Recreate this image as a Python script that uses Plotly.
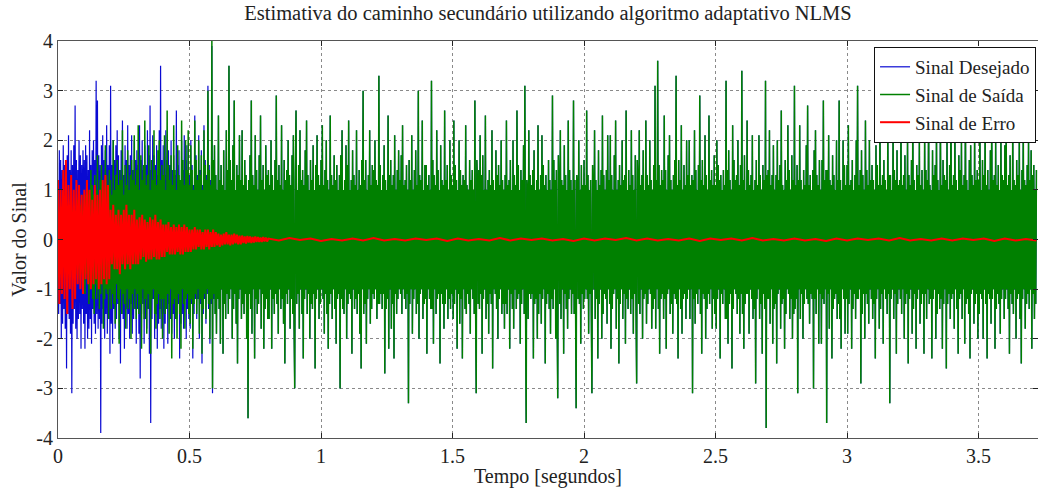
import numpy as np
import plotly.graph_objects as go

# Sampling interval of the output / desired signals (s)
DT = 0.0025
# Sampling interval of the error signal during adaptation (s)
DT_ERRO = 0.005
# Coarser interval used for the error signal once it has converged (s)
DT_ERRO_CONV = 0.04

# Output of the adaptive filter (Sinal de Saida), one row per 0.1 s
saida = [
    0.0, -0.1, 0.1, -0.1, 0.2, -0.1, 0.2, -0.2, 0.1, -0.3, 0.3, -0.2, 0.2, -0.4, 0.3, -0.3, 0.4, -0.2, 0.5, -0.4,
    0.3, -0.5, 0.6, -0.4, 0.5, -0.6, 0.4, -0.7, 0.6, -0.5, 0.8, -0.6, 0.5, -0.8, 0.7, -0.6, 0.9, -0.7, 0.6, -0.9,
    0.8, -1.1, 0.9, -0.7, 1.2, -0.9, 1.0, -1.3, 0.7, -1.0, 1.4, -0.8, 1.1, -1.2, 0.9, -1.5, 1.3, -0.9, 1.0, -1.2,
    1.7, -1.0, 0.8, -1.4, 1.2, -1.1, 1.5, -0.9, 1.1, -1.8, 1.0, -1.2, 1.9, -1.0, 1.3, -1.1, 0.9, -1.6, 1.4, -1.0,
    1.2, -1.4, 0.9, -1.1, 2.0, -1.3, 1.0, -1.7, 1.3, -0.9, 1.6, -1.2, 1.1, -2.1, 1.4, -1.0, 1.2, -1.5, 2.2, -1.1,
    0.9, -1.3, 1.5, -1.8, 1.1, -1.0, 1.8, -1.4, 1.0, -1.2, 1.3, -2.0, 1.6, -1.1, 1.2, -1.4, 2.1, -1.0, 1.1, -1.6,
    1.4, -1.1, 2.3, -1.5, 1.0, -1.3, 1.7, -2.2, 1.2, -1.0, 1.5, -1.6, 2.4, -1.2, 1.1, -1.9, 1.3, -1.1, 1.9, -1.4,
    1.0, -2.3, 1.6, -1.2, 1.2, -1.0, 2.2, -1.5, 1.4, -1.8, 1.1, -1.3, 1.8, -1.1, 2.0, -1.6, 1.2, -1.2, 1.5, -2.0,
    1.3, -1.2, 2.1, -1.5, 1.0, -1.4, 2.6, -1.1, 1.5, -1.9, 1.2, -1.0, 1.7, -2.4, 1.1, -1.3, 2.3, -1.2, 1.4, -1.6,
    1.0, -2.0, 1.9, -1.1, 1.3, -1.5, 1.2, -2.2, 2.4, -1.0, 1.6, -1.3, 1.1, -1.8, 2.0, -1.2, 1.4, -1.1, 2.2, -1.5,
    1.1, -1.7, 1.9, -1.2, 1.4, -2.2, 1.0, -1.3, 2.4, -1.1, 1.6, -1.5, 1.2, -1.0, 2.0, -1.9, 1.3, -1.2, 1.7, -2.3,
    1.0, -1.4, 2.2, -1.1, 1.5, -1.6, 1.2, -1.0, 3.0, -1.3, 1.4, -2.0, 1.1, -1.2, 4.0, -3.0, 1.6, -1.1, 1.9, -1.5,
    1.3, -1.9, 1.0, -1.2, 2.5, -1.4, 1.2, -2.1, 1.5, -1.0, 1.1, -2.3, 1.8, -1.3, 1.0, -1.6, 2.2, -1.1, 1.4, -1.5,
    3.5, -1.2, 1.6, -1.0, 1.2, -2.0, 1.9, -1.4, 2.8, -1.1, 1.0, -1.7, 1.5, -2.5, 1.3, -1.2, 2.1, -1.0, 1.2, -1.6,
    2.2, -1.3, 1.1, -1.5, 1.6, -1.1, 1.3, -2.0, 1.0, -3.6, 1.2, -1.1, 1.7, -1.4, 2.8, -1.9, 1.3, -1.0, 1.1, -2.4,
    2.1, -1.2, 1.4, -1.5, 1.0, -1.3, 1.7, -1.0, 2.5, -1.8, 1.2, -1.1, 1.5, -2.2, 1.0, -1.4, 1.9, -1.2, 1.3, -1.6,
    1.4, -1.6, 1.1, -1.0, 2.0, -2.2, 1.3, -1.2, 1.0, -1.5, 1.6, -1.1, 2.9, -1.3, 1.2, -1.9, 1.5, -1.0, 1.1, -1.4,
    2.3, -1.2, 1.0, -1.7, 1.6, -2.5, 1.2, -1.1, 1.4, -1.3, 2.0, -1.0, 1.3, -1.8, 1.1, -1.2, 1.7, -1.5, 2.1, -1.7,
    -3.0, 1.2, 2.6, -1.3, 1.0, -1.1, 1.5, -1.8, 2.2, -1.0, 1.2, -1.5, 1.4, -2.4, 1.1, -1.2, 1.8, -1.0, 2.4, -1.5,
    1.3, -1.1, 1.0, -2.0, 1.6, -1.3, 1.2, -1.4, 1.9, -1.1, 1.0, -2.6, 1.5, -1.2, 2.1, -1.0, 1.3, -1.6, 1.1, -1.3,
    1.6, -1.0, 2.3, -1.2, 1.1, -1.9, 1.4, -1.1, 2.0, -1.5, 1.2, -2.2, 1.0, -1.3, 2.5, -1.1, 1.3, -1.6, 1.1, -1.0,
    1.7, -1.4, 1.2, -2.1, 1.5, -1.2, 1.0, -1.1, 1.3, -3.0, 1.7, -1.2, 2.2, -1.4, 1.0, -1.5, 1.2, -1.0, 1.9, -2.0,
    1.5, -1.3, 2.4, -1.1, 1.0, -1.2, 1.2, -2.3, 1.8, -1.0, 1.3, -1.4, 1.1, -1.2, 2.2, -1.5, 1.0, -1.1, 1.4, -1.9,
    1.1, -2.6, 1.6, -1.0, 3.0, -1.5, 1.2, -1.3, 1.6, -2.1, 1.0, -1.2, 1.3, -1.0, 2.2, -1.7, 1.1, -1.4, 1.5, -1.1,
    1.4, -1.2, 2.0, -1.0, 1.2, -1.6, 1.1, -1.3, 3.3, -1.3, 1.5, -1.1, 1.0, -1.4, 1.3, -1.1, 1.9, -2.7, 1.2, -1.4,
    1.0, -1.2, 2.5, -2.2, 1.3, -1.0, 1.6, -1.8, 1.1, -1.3, 1.3, -2.4, 2.1, -1.1, 1.0, -1.5, 1.4, -1.2, 1.8, -1.0,
    1.2, -1.1, 1.7, -1.5, 2.3, -1.0, 1.1, -1.2, 1.2, -1.4, 1.5, -1.1, 1.0, -3.3, 1.6, -1.3, 1.2, -1.0, 2.1, -1.9,
    1.0, -1.2, 1.4, -1.0, 1.8, -1.5, 1.1, -1.3, 3.0, -2.0, 1.3, -1.1, 1.2, -1.0, 2.4, -1.6, 1.0, -1.3, 1.5, -1.2,
    1.5, -2.3, 1.1, -1.0, 1.3, -1.2, 1.0, -1.4, 3.2, -1.4, 1.6, -2.1, 1.3, -1.0, 1.1, -1.5, 2.2, -1.2, 1.4, -1.1,
    1.0, -2.5, 1.9, -1.1, 1.2, -1.3, 1.1, -1.8, 2.6, -1.3, 1.2, -1.0, 1.5, -1.6, 1.0, -1.2, 2.0, -1.4, 1.3, -1.1,
    1.1, -1.6, 2.4, -1.3, 1.5, -1.0, 1.2, -2.2, 1.0, -1.1, 2.0, -1.7, 1.4, -1.2, 1.1, -2.4, 1.3, -1.0, 1.2, -1.4,
    2.3, -1.5, 1.1, -1.1, 1.0, -1.3, 1.6, -1.9, 1.2, -1.0, 1.4, -1.2, 1.0, -1.5, 2.8, -1.2, -3.1, 1.6, 1.1, -1.3,
    1.4, -1.4, 2.1, -1.1, 1.3, -2.3, 1.7, -1.2, 1.0, -1.0, 2.5, -1.6, 1.0, -1.3, 1.2, -1.9, 1.4, -1.1, 1.1, -1.3,
    2.2, -2.6, 1.2, -1.0, 1.0, -1.1, 1.8, -1.4, 1.3, -2.0, 1.5, -1.2, 1.1, -1.0, 2.0, -1.5, 1.2, -1.3, 1.0, -1.8,
    1.3, -1.3, 2.4, -1.5, 1.1, -1.0, 1.2, -2.2, 1.6, -1.1, 1.0, -1.4, 2.0, -1.8, 1.3, -1.0, 1.1, -1.4, 2.6, -1.2,
    1.5, -1.1, 1.0, -2.1, 1.4, -1.3, 1.2, -1.0, 1.9, -1.5, 3.1, -1.2, -3.7, 1.2, 1.0, -1.6, 2.2, -1.1, 1.3, -1.2,
    1.1, -1.1, 1.4, -2.4, 1.8, -1.3, 1.0, -1.2, 1.2, -2.0, 2.3, -1.5, 1.0, -1.1, 1.3, -1.7, 2.1, -1.2, 1.5, -1.0,
    1.1, -2.5, 1.3, -1.3, 1.0, -1.1, 1.6, -1.4, 1.2, -1.9, 1.0, -1.2, 2.9, -1.4, 1.6, -1.0, 1.2, -2.0, 1.4, -1.3,
    -3.2, 1.7, 1.0, -1.3, 2.2, -1.6, 1.2, -1.0, 1.1, -2.3, 1.9, -1.1, 1.3, -1.4, 1.0, -1.8, 2.4, -1.2, 1.4, -1.0,
    1.2, -1.5, 1.0, -1.1, 2.8, -1.5, 1.2, -1.0, -3.4, 1.3, 1.1, -1.2, 2.0, -1.3, 1.0, -2.1, 1.5, -1.1, 1.1, -1.4,
    1.6, -1.2, 1.1, -1.0, 2.6, -1.2, 1.3, -1.9, 1.0, -1.1, 1.2, -1.4, -3.1, 1.5, 1.0, -1.0, 2.2, -1.6, 1.2, -1.2,
    1.0, -2.4, 1.8, -1.3, 1.1, -1.0, 1.4, -2.0, 2.5, -1.5, 1.3, -1.1, 1.0, -1.2, 1.4, -1.7, 2.1, -1.0, 1.2, -1.3,
    2.1, -2.2, 1.3, -1.4, 1.0, -1.1, 1.7, -1.0, 2.4, -1.8, 1.0, -1.2, 1.2, -2.5, 1.5, -1.3, 1.1, -1.0, 2.0, -1.6,
    1.2, -1.1, 1.3, -2.1, 2.6, -1.2, 1.0, -1.4, 1.4, -1.0, 1.1, -1.5, 2.2, -1.2, 1.3, -1.9, 1.0, -1.1, 1.7, -1.3,
    -2.9, 1.6, 1.2, -1.3, 2.2, -1.5, 1.1, -1.0, 1.3, -2.0, 1.8, -1.2, 1.0, -1.1, 2.4, -1.7, 1.3, -1.3, 1.1, -1.0,
    2.0, -1.1, 1.2, -1.8, 1.0, -1.4, 1.5, -1.2, 3.1, -1.8, 1.2, -1.0, 3.6, -1.4, 1.5, -2.3, 1.1, -1.2, 1.4, -1.1,
    1.2, -1.6, 2.5, -1.2, 1.4, -2.2, 1.0, -1.1, 1.7, -1.0, 2.1, -1.5, 1.2, -1.3, 1.0, -1.9, 1.3, -1.1, 1.6, -1.2,
    3.3, -1.3, 1.1, -2.4, 1.6, -1.0, 1.2, -1.4, 2.3, -1.9, 1.0, -1.2, 1.5, -1.1, 1.1, -1.6, 2.0, -1.2, 1.3, -1.0,
    2.0, -1.6, 1.1, -1.0, 1.3, -3.1, 1.2, -1.2, 2.2, -1.7, 1.4, -1.1, 1.0, -1.3, 1.5, -1.0, 2.9, -1.5, 1.2, -2.3,
    1.6, -1.1, 1.1, -1.2, 2.1, -2.0, 1.3, -1.4, 1.0, -1.1, 2.5, -1.3, 1.2, -1.0, 1.4, -1.8, 1.1, -1.2, 1.7, -1.5,
    1.1, -1.8, 2.0, -1.2, 1.5, -1.0, 1.2, -2.4, 1.3, -1.1, 1.0, -1.3, 1.4, -1.0, 1.1, -1.6, 3.2, -1.6, 1.4, -2.1,
    1.8, -1.3, 1.2, -1.1, 1.0, -2.6, 2.3, -1.4, 1.6, -1.0, 1.2, -1.1, 1.3, -1.5, 2.0, -1.2, 1.1, -1.9, 1.5, -1.1,
    3.4, -1.5, 1.2, -2.2, 1.7, -1.3, 1.0, -1.1, 2.4, -1.1, 1.4, -1.9, 1.1, -1.0, 1.3, -1.2, 2.1, -1.6, 1.0, -1.4,
    1.2, -2.9, 1.6, -1.2, 1.1, -1.0, 2.1, -1.6, 1.3, -1.3, 1.0, -2.3, 1.5, -1.1, 1.2, -1.4, 3.2, -3.8, 1.3, -1.2,
    1.4, -1.2, 2.2, -1.7, 1.1, -1.0, 1.3, -2.1, 1.9, -1.4, 1.0, -1.3, 1.3, -2.5, 2.0, -1.1, 1.2, -1.0, 1.5, -1.8,
    2.6, -1.3, 1.1, -1.2, 1.0, -2.2, 1.6, -1.5, 1.2, -1.0, 2.3, -1.1, 1.4, -1.6, 1.0, -1.2, 1.7, -2.0, 1.2, -1.5,
    3.1, -1.4, 1.1, -1.2, 1.5, -3.1, 1.2, -1.0, 2.3, -1.6, 1.2, -1.1, 1.0, -2.0, 1.4, -1.3, 1.1, -1.0, 1.9, -1.2,
    2.7, -1.3, 1.1, -1.7, 1.3, -1.1, 1.0, -1.2, 1.4, -3.0, 1.8, -1.2, 2.2, -1.5, 1.3, -1.0, 1.1, -2.1, 1.6, -1.1,
    1.0, -2.1, 1.6, -1.2, 2.8, -1.3, 1.2, -1.0, 1.4, -3.7, 1.4, -1.1, 2.1, -1.8, 1.2, -1.0, 1.1, -2.4, 1.7, -1.4,
    1.3, -1.2, 1.0, -1.1, 2.0, -1.6, 1.2, -1.3, 2.8, -1.6, 1.2, -2.2, 1.0, -1.0, 2.0, -1.2, 1.5, -1.9, 1.1, -1.2,
    1.5, -1.9, 2.3, -1.3, 1.1, -1.0, 1.2, -2.2, 1.6, -1.4, 1.0, -1.1, 1.3, -1.6, 2.0, -1.2, 3.1, -1.2, 1.1, -1.0,
    1.4, -2.9, 1.8, -1.5, 1.3, -1.1, 1.0, -2.0, 2.4, -1.1, 1.4, -1.3, 1.1, -1.7, 2.0, -1.0, 1.2, -1.2, 1.5, -1.6,
    1.2, -1.3, 1.0, -2.4, 1.9, -1.2, 1.5, -1.0, 1.1, -1.8, 2.5, -1.4, 1.1, -1.1, 1.3, -2.1, 1.6, -1.0, 1.2, -1.2,
    1.0, -1.5, 2.2, -1.1, 1.3, -3.3, 1.3, -1.2, 1.0, -1.0, 2.2, -1.6, 1.4, -1.1, 1.2, -2.3, 1.8, -1.3, 1.1, -1.0,
    1.2, -1.2, 2.4, -1.5, 1.1, -1.0, 1.3, -2.0, 1.7, -1.3, 1.0, -1.1, 2.1, -2.5, 1.3, -1.2, 1.1, -1.0, 1.6, -1.9,
    2.6, -1.4, 1.2, -1.1, 1.0, -2.2, 1.5, -1.2, 1.3, -1.0, 2.0, -1.7, 1.1, -1.3, 1.4, -1.1, 1.0, -2.3, 2.2, -1.1,
    1.4, -1.6, 1.2, -1.0, 2.7, -1.3, 1.1, -1.2, 1.0, -2.4, 1.8, -1.2, 1.3, -1.0, 1.5, -2.0, 2.3, -1.5, 1.2, -1.1,
    1.0, -1.4, 2.5, -1.2, 1.1, -2.2, 1.6, -1.3, 1.3, -1.0, 1.2, -2.6, 2.0, -1.3, 1.0, -1.1, 1.5, -1.6, 2.8, -1.2,
    1.1, -1.1, 1.3, -1.8, 2.2, -1.0, 1.2, -1.4, 1.0, -2.3, 1.7, -1.2, 1.4, -1.1, 2.0, -1.6, 1.1, -1.0, 1.3, -2.1,
    2.8, -1.3, 1.2, -1.2, 1.0, -1.5, 1.6, -2.4, 1.9, -1.1, 1.3, -1.0, 1.1, -1.7, 2.2, -1.3, 1.2, -1.1, 1.4, -2.0,
    1.2, -1.5, 2.5, -1.1, 1.0, -1.2, 1.6, -2.0, 1.3, -1.0, 2.3, -1.3, 1.1, -2.4, 1.4, -1.1, 1.0, -1.2, 1.8, -1.7,
    2.6, -1.2, 1.2, -1.0, 1.3, -2.2, 2.0, -1.4, 1.1, -1.1, 1.5, -1.3, 1.0, -1.9, 2.1, -1.2, 1.3, -1.0, 1.2, -1.6,
    1.9, -1.2, 2.2, -1.0, 1.1, -1.4, 1.3, -2.3, 1.7, -1.1, 1.0, -1.3, 2.4, -1.5, 1.2, -1.0, 1.1, -2.0, 1.6, -1.2,
    1.3, -1.1, 2.1, -1.6, 1.0, -2.5, 1.4, -1.2, 2.3, -1.0, 1.2, -1.8, 1.1, -1.3, 1.5, -1.1, 2.0, -1.4, 1.2, -1.0,
    1.8, -2.2, 1.3, -1.1, 1.5, -1.6, 1.0, -1.3, 1.4,
]

# Desired signal (Sinal Desejado) during the first 0.6 s; afterwards the
# filter has converged and the desired signal coincides with the output
desejado_inicio = [
    1.2, -1.5, 1.8, -1.3, 1.6, -2.0, 1.4, -1.7, 1.9, -1.4, 1.5, -1.8, 1.3, -2.6, 1.7, -1.5, 2.1, -1.6, 1.4, -1.9,
    1.8, -3.1, 1.5, -1.7, 1.9, -1.4, 2.7, -1.8, 1.6, -2.0, 1.4, -1.6, 2.0, -1.5, 1.7, -2.2, 1.5, -1.4, 1.8, -1.7,
    1.6, -2.2, 1.9, -1.5, 1.7, -2.0, 1.4, -1.8, 2.2, -1.6, 1.5, -2.1, 1.8, -1.4, 2.0, -1.7, 1.6, -1.9, 3.2, -1.5,
    2.8, -1.8, 1.7, -1.6, 1.5, -3.9, 1.9, -1.7, 2.1, -1.4, 1.6, -2.0, 1.8, -1.5, 2.3, -1.9, 1.5, -1.6, 1.9, -2.3,
    3.1, -1.7, 1.5, -2.1, 2.0, -1.4, 1.6, -1.8, 1.9, -1.6, 2.2, -1.3, 1.7, -2.0, 1.4, -2.5, 1.8, -1.5, 2.4, -1.6,
    1.3, -2.2, 1.9, -1.4, 1.6, -1.8, 2.3, -1.5, 1.5, -2.0, 1.7, -1.3, 2.1, -1.9, 1.4, -1.6, 2.0, -1.4, 1.6, -2.1,
    1.8, -1.4, 1.5, -1.9, 2.3, -2.8, 1.6, -1.5, 2.0, -1.3, 1.4, -2.1, 1.9, -1.6, 1.5, -1.8, 2.2, -1.4, 1.7, -2.3,
    2.7, -3.7, 1.4, -1.6, 2.1, -1.2, 1.7, -2.0, 1.5, -1.5, 1.9, -2.2, 1.3, -1.7, 2.2, -1.4, 3.5, -1.8, 1.6, -1.5,
    1.9, -2.2, 1.3, -1.7, 2.2, -1.4, 1.6, -2.1, 1.8, -1.3, 1.5, -1.6, 2.0, -1.9, 1.4, -1.5, 1.7, -2.0, 1.3, -1.4,
    2.6, -1.6, 1.5, -1.3, 1.8, -2.4, 1.2, -1.7, 2.0, -1.5, 1.4, -1.8, 2.1, -1.2, 1.6, -2.0, 1.9, -1.4, 1.3, -1.6,
    1.3, -1.8, 2.0, -1.3, 1.5, -2.4, 1.1, -1.5, 2.5, -1.2, 1.7, -1.6, 1.3, -1.2, 2.1, -2.0, 1.4, -1.3, 1.8, -2.5,
    1.1, -1.5, 2.3, -1.2, 1.6, -1.7, 1.3, -1.1, 3.1, -1.4, 1.5, -2.1, 1.2, -1.3, 3.9, -3.1, 1.6, -1.2, 1.9, -1.5,
]

# Error signal (Sinal de Erro) during the first 0.8 s
erro_inicio = [
    1.2, -1.3, 1.0, -1.1, 1.4, -1.2, 1.6, -1.5, 1.1, -1.0, 1.3, -1.4, 1.0, -1.2, 1.2, -0.9, 1.1, -1.0, 0.9, -1.1,
    1.0, -0.8, 1.2, -0.9, 1.0, -1.0, 0.8, -0.9, 1.1, -0.8, 0.9, -1.0, 1.0, -0.9, 1.2, -0.8, 1.3, -0.9, 1.1, -0.8,
    0.6, -0.5, 0.7, -0.6, 0.5, -0.6, 0.6, -0.7, 0.5, -0.5, 0.6, -0.6, 0.7, -0.5, 0.5, -0.6, 0.5, -0.5, 0.6, -0.5,
    0.4, -0.5, 0.45, -0.4, 0.5, -0.35, 0.4, -0.45, 0.35, -0.4, 0.45, -0.4, 0.4, -0.35, 0.5, -0.4, 0.35, -0.4, 0.4, -0.35,
    0.3, -0.35, 0.3, -0.25, 0.35, -0.3, 0.25, -0.3, 0.3, -0.3, 0.25, -0.25, 0.3, -0.3, 0.25, -0.3, 0.3, -0.25, 0.25, -0.25,
    0.2, -0.25, 0.2, -0.2, 0.25, -0.2, 0.2, -0.15, 0.2, -0.2, 0.15, -0.2, 0.2, -0.15, 0.2, -0.2, 0.15, -0.15, 0.2, -0.15,
    0.15, -0.12, 0.12, -0.15, 0.1, -0.12, 0.12, -0.1, 0.15, -0.1, 0.1, -0.12, 0.1, -0.1, 0.12, -0.08, 0.1, -0.1, 0.08, -0.1,
    0.08, -0.07, 0.06, -0.08, 0.07, -0.06, 0.06, -0.07, 0.05, -0.06, 0.06, -0.05, 0.05, -0.05, 0.04, -0.05, 0.05, -0.04, 0.04, -0.04,
]

# Residual error after convergence, sampled every DT_ERRO_CONV
erro_convergido = [
    0.02, -0.02, 0.03, -0.01, 0.02, -0.03, 0.01, -0.02, 0.02, -0.02,
    0.03, -0.02, 0.01, -0.02, 0.02, -0.01, 0.02, -0.03, 0.02, -0.02,
    0.01, -0.02, 0.03, -0.02, 0.02, -0.01, 0.02, -0.02, 0.01, -0.03,
    0.02, -0.02, 0.02, -0.01, 0.03, -0.02, 0.02, -0.02, 0.01, -0.02,
    0.02, -0.03, 0.02, -0.01, 0.02, -0.02, 0.03, -0.02, 0.01, -0.02,
    0.02, -0.02, 0.01, -0.03, 0.02, -0.02, 0.02, -0.01, 0.02, -0.02,
    0.03, -0.02, 0.01, -0.02, 0.02, -0.02, 0.02, -0.01, 0.02, -0.03,
    0.02, -0.02, 0.01, -0.02,
]

x_ticks = [0, 0.5, 1, 1.5, 2, 2.5, 3, 3.5]
x_tick_labels = ["0", "0.5", "1", "1.5", "2", "2.5", "3", "3.5"]
y_ticks = [-4, -3, -2, -1, 0, 1, 2, 3, 4]
y_tick_labels = ["-4", "-3", "-2", "-1", "0", "1", "2", "3", "4"]

# Time bases
t = np.arange(len(saida)) * DT
desejado = desejado_inicio + saida[len(desejado_inicio):]
t_erro = np.concatenate([
    np.arange(len(erro_inicio)) * DT_ERRO,
    len(erro_inicio) * DT_ERRO + np.arange(len(erro_convergido)) * DT_ERRO_CONV,
])
erro = erro_inicio + erro_convergido

SERIF = "Liberation Serif, Times New Roman, serif"
TEXT = "#222222"

fig = go.Figure()
fig.add_trace(go.Scatter(x=t, y=desejado, mode="lines", name="Sinal Desejado",
                         line=dict(color="#0a0ad2", width=1.2, simplify=False)))
fig.add_trace(go.Scatter(x=t, y=saida, mode="lines", name="Sinal de Saída",
                         line=dict(color="#008000", width=1.5, simplify=False)))
fig.add_trace(go.Scatter(x=t_erro, y=erro, mode="lines", name="Sinal de Erro",
                         line=dict(color="#ff0000", width=2, simplify=False)))

axis_common = dict(
    showline=True, linecolor="#555555", linewidth=1, mirror="ticks",
    ticks="inside", ticklen=5, tickcolor=TEXT,
    showgrid=True, gridcolor="#8a8a8a", gridwidth=1, griddash="dot",
    zeroline=False, tickfont=dict(family=SERIF, size=20, color=TEXT),
)

fig.update_layout(
    width=1038, height=488,
    margin=dict(l=58, r=0, t=41, b=50),
    paper_bgcolor="white", plot_bgcolor="white",
    font=dict(family=SERIF, size=20, color=TEXT),
    title=dict(text="Estimativa do caminho secundário utilizando algoritmo adaptativo NLMS",
               x=0.5, xref="paper", xanchor="center",
               y=1 - 13 / 488, yref="container", yanchor="middle",
               font=dict(family=SERIF, size=20.5, color=TEXT)),
    xaxis=dict(range=[0, 3.726], tickvals=x_ticks, ticktext=x_tick_labels,
               title=dict(text="Tempo [segundos]", standoff=0,
                          font=dict(family=SERIF, size=20, color=TEXT)),
               **axis_common),
    yaxis=dict(range=[-4, 4], tickvals=y_ticks, ticktext=y_tick_labels,
               title=dict(text="Valor do Sinal", standoff=4,
                          font=dict(family=SERIF, size=20, color=TEXT)),
               **axis_common),
    legend=dict(x=0.998, xanchor="right", y=0.985, yanchor="top",
                bgcolor="white", bordercolor="#111111", borderwidth=1,
                font=dict(family=SERIF, size=19, color=TEXT),
                tracegroupgap=0),
    showlegend=True,
)

fig.write_html("out.html")
